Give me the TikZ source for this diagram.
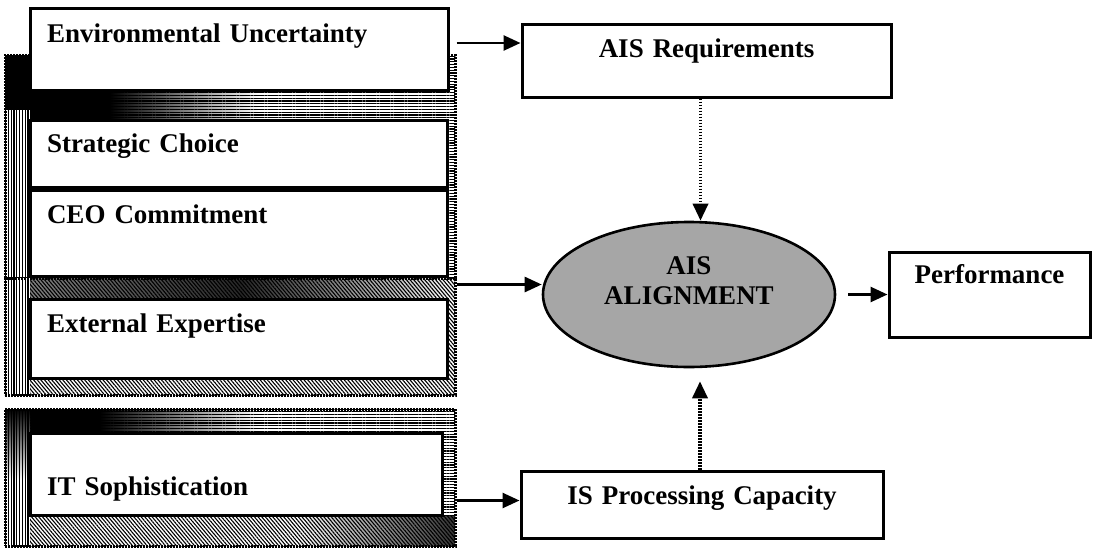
\documentclass[tikz,border=0pt]{standalone}
\usepackage{fontspec}
\setmainfont{Liberation Serif}
\usetikzlibrary{
    positioning,
    arrows.meta,
    shapes.geometric,
    patterns.meta
}

\tikzset{
    box/.style={draw, line width=3pt, fill=white, inner sep=0pt,
        font=\fontsize{27}{30}\selectfont\bfseries},
    lbox/.style={box, align=left, inner xsep=17pt, text width=#1},
    rbox/.style={box, align=center, text width=#1},
    frame/.style={draw, line width=3pt, dash pattern=on 2pt off 1pt,
        minimum width=450pt, inner sep=0pt},
    arr/.style={line width=2.6pt, -{Triangle[length=17pt, width=15pt]}},
    dotarr/.style={arr, line width=3.4pt, dash pattern=on 1.8pt off 1.2pt},
    hatchH/.style={pattern={Lines[angle=0, distance=2.8pt, line width=1.1pt]}},
    hatchV/.style={pattern={Lines[angle=90, distance=2.8pt, line width=1.1pt]}},
    hatchD/.style={pattern={Lines[angle=-50, distance=2.8pt, line width=1.1pt]}}
}

\begin{document}
\begin{tikzpicture}[x=1pt, y=-1pt]
        \useasboundingbox (0,0) rectangle (1095,549);

        % Skygge bak første gruppe
        \fill[white] (5,55) rectangle (455,278);
        \fill[black] (5,55) rectangle (30,110);
        \fill[black] (30,88) rectangle (110,122);
        \shade[left color=black, right color=white] (110,88) rectangle (260,122);
        \fill[hatchV] (5,55) rectangle (30,278);
        \fill[hatchH] (30,55) rectangle (455,278);
        \node[frame, minimum height=223pt] (frameA) at (230,166.5) {};

        % Skygge bak andre gruppe
        \fill[white] (5,278) rectangle (455,395);
        \shade[left color=black!50, right color=white, middle color=black!85] (30,278) rectangle (455,299);
        \fill[hatchV] (5,278) rectangle (30,395);
        \fill[hatchD] (30,278) rectangle (455,395);
        \node[frame, minimum height=117pt] (frameB) at (230,336.5) {};

        % Skygge bak tredje gruppe
        \fill[white] (5,409) rectangle (455,546);
        \fill[black] (5,409) rectangle (100,433);
        \shade[left color=black, right color=white] (100,409) rectangle (260,433);
        \shade[top color=black, bottom color=white] (5,409) rectangle (30,480);
        \shade[left color=white, right color=black!80] (300,515) rectangle (455,546);
        \fill[hatchV] (5,409) rectangle (30,546);
        \fill[hatchH] (30,409) rectangle (455,515);
        \fill[hatchD] (30,515) rectangle (455,546);
        \node[frame, minimum height=137pt] (frameC) at (230,477.5) {};

        % Faktorer til venstre
        \node[lbox=384pt, text height=34pt, text depth=48pt] (eu) at (239,49) {Environmental Uncertainty};
        \node[lbox=383pt, text height=32pt, text depth=35pt] (sc) at (238.5,153.5) {Strategic Choice};
        \node[lbox=383pt, text height=33pt, text depth=53pt, below=0pt of sc] (ceo) {CEO Commitment};
        \node[lbox=383pt, text height=33pt, text depth=46pt] (ee) at (238.5,338.5) {External Expertise};
        \node[lbox=378pt, text height=62pt, text depth=20pt] (its) at (236,474) {IT Sophistication};

        % Boksene til høyre
        \node[rbox=369pt, text height=33pt, text depth=40pt] (aisreq) at (706.5,60.5) {AIS Requirements};
        \node[rbox=362pt, text height=33pt, text depth=34pt] (ispc) at (702,504.5) {IS Processing Capacity};
        \node[rbox=201pt, text height=31pt, text depth=54pt] (perf) at (989.5,294.5) {Performance};

        % Tilpasning
        \node[ellipse, draw, line width=2.6pt, fill=black!35, inner sep=0pt,
            minimum width=292pt, minimum height=145pt, align=center, text depth=27pt,
            font=\fontsize{27}{30}\selectfont\bfseries] (ais) at (689,294.5) {AIS\\ALIGNMENT};

        % Piler
        \draw[arr] ([xshift=7pt, yshift=6pt]eu.east) coordinate (s1) -- (s1 -| aisreq.west);
        \draw[arr] ([yshift=-5pt]frameA.south east) coordinate (s2) -- (s2 -| ais.west);
        \draw[arr] ([xshift=12pt]ais.east) -- (perf.west);
        \draw[arr] ([yshift=4pt]frameC.east |- ispc.west) coordinate (s3) -- (s3 -| ispc.west);
        \draw[dotarr] ([xshift=-6pt]aisreq.south) coordinate (s4) -- (s4 |- ais.north);
        \draw[dotarr, shorten >=13pt] ([xshift=-2pt]ispc.north) coordinate (s5) -- (s5 |- ais.south);
    \end{tikzpicture}
\end{document}
